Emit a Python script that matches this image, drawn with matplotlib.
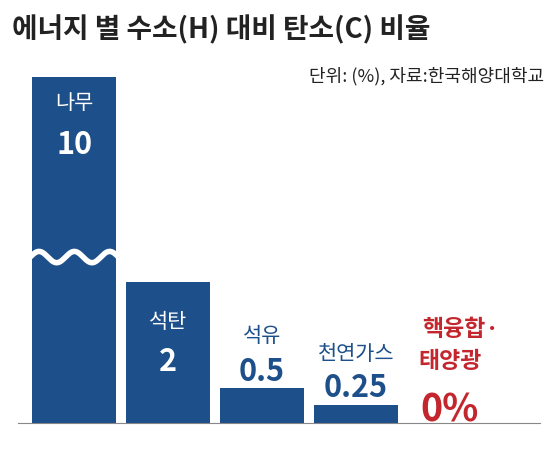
import numpy as np
import matplotlib.pyplot as plt
import matplotlib.transforms as mtransforms

plt.rcParams['font.family'] = ['Noto Sans CJK KR', 'DejaVu Sans']

names = ['나무', '석탄', '석유', '천연가스']
values = [10, 2, 0.5, 0.25]
value_labels = ['10', '2', '0.5', '0.25']
blue = '#1d4f8a'
red = '#c4262e'
ytop = 4.9

fig = plt.figure(figsize=(5.59, 4.56), dpi=100)
ax = fig.add_axes([18/559, 32/456, 522/559, 346/456])
x = np.arange(len(values))
ax.bar(x, np.minimum(values, ytop), width=84/94, color=blue)
ax.set_xlim(-0.6, 4.96)
ax.set_ylim(0, ytop)
for s in ['top', 'right', 'left']:
    ax.spines[s].set_visible(False)
ax.spines['bottom'].set_color('#888888')
ax.set_xticks([])
ax.set_yticks([])

# break mark on the clipped bar
wx = np.linspace(-0.47, 0.47, 200)
wy = 2.35 + 0.08*np.sin((wx + 0.47) / 0.94 * 2 * np.pi * 2.5)
ax.plot(wx, wy, color='white', lw=4, solid_capstyle='butt')

tr = mtransforms.blended_transform_factory(ax.transData, fig.transFigure)
def fy(p):
    return 1 - p/456

# labels: (name y, value y, colour) in pixels
pos = [(103, 145, 'white'), (322, 362, 'white'), (336, 372, blue), (354, 388, blue)]
for i, (ny, vy, c) in enumerate(pos):
    ax.text(x[i], fy(ny), names[i], transform=tr, ha='center', va='center',
            color=c, fontsize=15)
    ax.text(x[i], fy(vy), value_labels[i], transform=tr, ha='center', va='center',
            color=c, fontsize=22, fontweight='bold')

ax.text(4.12, fy(330), '핵융합·', transform=tr, ha='center', va='center',
        color=red, fontsize=16.5, fontweight='bold')
ax.text(4.0, fy(362), '태양광', transform=tr, ha='center', va='center',
        color=red, fontsize=16.5, fontweight='bold')
ax.text(4.0, fy(410), '0%', transform=tr, ha='center', va='center',
        color=red, fontsize=27, fontweight='bold')

fig.text(12/559, fy(30), '에너지 별 수소(H) 대비 탄소(C) 비율', ha='left', va='center',
         fontsize=20, fontweight='bold', color='#222222')
fig.text(544/559, fy(76), '단위: (%), 자료:한국해양대학교', ha='right', va='center',
         fontsize=13, color='#222222')

fig.savefig('out.png', dpi=100)
